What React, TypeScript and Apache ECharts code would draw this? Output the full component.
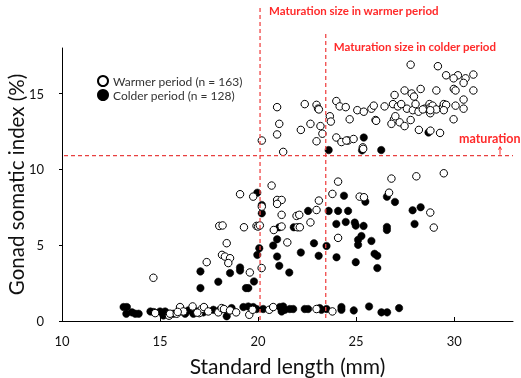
import React, { useEffect, useRef } from "react";
import * as echarts from "echarts";

// Warmer period (open circles): [standard length (mm), GSI (%)]
const warmerPoints: [number, number][] = [
  // upper cluster
  [27.78, 16.9], [29.17, 16.8], [29.59, 16.2], [30.19, 16.2], [29.97, 16.0], [30.58, 16.0],
  [30.98, 16.25], [30.48, 15.7], [29.98, 15.3], [30.07, 15.2], [30.98, 15.2], [27.47, 15.2],
  [28.29, 15.3], [29.09, 15.2], [27.83, 15.0], [27.95, 14.8], [30.48, 14.6], [26.96, 14.9],
  [23.99, 14.5], [22.38, 14.3], [20.97, 14.1], [22.98, 14.25], [23.06, 14.0], [24.16, 14.15],
  [24.47, 14.1], [25.06, 13.9], [25.39, 13.8], [25.78, 14.0], [25.9, 14.2], [26.45, 14.15],
  [26.88, 14.3], [27.13, 14.15], [27.59, 14.0], [27.89, 13.9], [28.03, 14.3], [28.18, 13.8],
  [28.49, 14.0], [28.74, 14.3], [28.79, 14.1], [28.78, 13.7], [28.9, 14.2], [29.09, 13.95],
  [29.43, 14.1], [29.47, 14.3], [29.59, 14.25], [29.47, 13.9], [30.07, 14.2], [30.48, 14.0],
  [29.97, 13.3], [28.78, 13.9], [23.66, 13.5], [23.71, 13.15], [24.67, 13.3], [25.99, 13.25],
  [26.93, 13.3], [26.8, 13.0], [27.22, 13.1], [27.47, 12.85], [27.78, 13.25], [27.0, 13.5],
  [22.67, 13.0], [21.08, 13.0], [23.18, 12.85], [22.18, 12.6], [23.28, 12.35], [20.97, 12.3],
  [23.99, 12.1], [24.25, 11.8], [24.59, 11.9], [24.5, 11.9], [24.87, 12.0], [22.98, 11.85],
  [20.19, 11.9], [21.28, 11.15], [25.34, 11.45], [25.36, 11.35], [28.2, 12.6], [28.79, 12.55],
  [29.28, 12.4], [26.02, 13.2], [23.1, 13.95], [27.3, 14.3], [28.4, 13.95],
  // middle cluster
  [14.66, 2.85], [17.38, 3.88], [18.02, 6.27], [18.19, 6.3], [18.4, 5.13], [18.16, 4.36],
  [18.31, 4.25], [18.57, 4.14], [18.48, 3.82], [19.08, 8.36], [19.28, 6.18], [19.58, 3.2],
  [19.75, 8.2], [19.92, 6.27], [20.0, 6.23], [20.09, 6.3], [20.19, 7.54], [20.18, 3.49],
  [20.69, 8.93], [20.97, 7.98], [21.2, 7.98], [20.97, 7.72], [21.2, 7.0], [20.8, 6.0],
  [21.2, 6.23], [21.49, 5.18], [21.96, 6.93], [22.1, 7.0], [22.01, 6.18], [22.13, 6.18],
  [22.67, 6.5], [22.98, 7.32], [23.1, 7.94], [23.79, 8.38], [24.08, 9.19], [24.08, 5.48],
  [25.18, 8.2], [25.4, 8.16], [26.68, 8.46], [26.8, 9.39], [28.07, 9.54], [29.47, 9.74],
  [28.78, 7.15], [28.96, 6.16],
  // bottom cluster
  [14.75, 0.52], [15.46, 0.35], [15.51, 0.48], [15.85, 0.48], [16.02, 0.92], [16.19, 0.63],
  [16.66, 0.96], [17.0, 0.52], [17.12, 0.79], [17.24, 0.92], [17.46, 0.63], [17.97, 0.57],
  [18.14, 0.85], [18.26, 0.79], [18.57, 0.7], [18.88, 0.57], [19.55, 0.41], [19.72, 0.74],
  [20.57, 0.74], [20.77, 0.92], [22.98, 0.79], [23.79, 0.63], [16.9, 0.55], [15.9, 0.6],
];

// Colder period (filled circles)
const colderPoints: [number, number][] = [
  // upper cluster
  [23.6, 11.27], [25.39, 12.1], [26.28, 11.27], [28.69, 12.43], [25.3, 11.25],
  // middle cluster
  [17.06, 3.27], [17.06, 2.17], [17.97, 2.59], [18.57, 3.16], [19.08, 3.53], [19.08, 3.33],
  [19.38, 2.17], [19.5, 2.17], [19.79, 2.61], [19.96, 8.46], [20.19, 7.65], [20.19, 7.1],
  [20.06, 4.8], [19.96, 4.36], [20.77, 4.98], [20.97, 5.39], [20.97, 4.25], [21.08, 3.64],
  [21.59, 3.2], [21.08, 6.18], [21.82, 6.18], [22.18, 4.52], [22.55, 7.26], [22.85, 5.13],
  [23.09, 4.3], [23.49, 4.95], [23.6, 7.26], [23.99, 6.4], [24.0, 4.2], [24.08, 7.26],
  [24.59, 7.26], [24.38, 8.26], [24.47, 6.53], [24.93, 6.49], [24.98, 6.29], [25.1, 5.35],
  [25.1, 5.02], [24.98, 3.88], [25.27, 5.6], [25.38, 6.27], [25.47, 7.87], [25.78, 5.28],
  [25.94, 4.43], [26.08, 4.3], [26.08, 3.49], [26.57, 8.2], [26.57, 6.2], [26.57, 6.0],
  [26.98, 7.85], [27.88, 7.3], [28.29, 7.5], [27.98, 6.4],
  // bottom cluster
  [13.14, 0.92], [13.31, 0.92], [13.28, 0.48], [13.57, 0.57], [13.74, 0.48], [13.91, 0.48],
  [14.51, 0.63], [14.68, 0.59], [15.0, 0.63], [15.26, 0.63], [15.17, 0.37], [15.68, 0.48],
  [16.02, 0.63], [16.28, 0.48], [16.45, 0.7], [16.7, 0.48], [16.87, 0.63], [17.21, 0.57],
  [17.72, 0.74], [18.06, 0.74], [18.4, 0.31], [18.48, 0.63], [18.65, 0.85], [19.25, 0.92],
  [19.5, 0.96], [19.75, 0.92], [19.92, 0.79], [20.26, 0.79], [21.11, 0.92], [21.2, 0.63],
  [21.37, 0.74], [21.28, 0.96], [21.62, 0.79], [21.79, 0.79], [22.38, 0.79], [22.55, 0.79],
  [23.14, 0.85], [23.23, 0.74], [23.49, 0.79], [24.25, 0.92], [24.25, 0.74], [24.88, 0.7],
  [25.66, 0.96], [26.29, 0.57], [26.58, 0.57], [27.19, 0.85],
];

const seriesNames = ["Warmer period (n = 163)", "Colder period (n = 128)"];
const yTitle = "Gonad somatic index (%)";
const warmerMaturationSize = 20.1;
const colderMaturationSize = 23.45;
const maturationGSI = 10.9;
const xTicks = { min: 10, max: 33, interval: 5 };
const yTicks = { min: 0, max: 18, interval: 5 };

const FONT = "Lato, 'Open Sans', sans-serif";
const RED = "#ff2a2a";
const LINE_RED = "#f04848";

export default function App() {
  const ref = useRef<HTMLDivElement>(null);
  useEffect(() => {
    if (!ref.current) return;
    const chart = echarts.init(ref.current, undefined, { renderer: "svg" });
    chart.setOption({
      animation: false,
      textStyle: { fontFamily: FONT },
      grid: { left: 62, right: 8, top: 48, bottom: 57, containLabel: false, outerBoundsMode: "none" },
      legend: {
        orient: "vertical",
        left: 92,
        top: 70,
        itemWidth: 10,
        itemHeight: 10,
        itemGap: 2,
        textStyle: { fontSize: 12, color: "#333", fontFamily: FONT },
        data: seriesNames,
      },
      xAxis: {
        type: "value",
        min: xTicks.min,
        max: xTicks.max,
        interval: xTicks.interval,
        name: "Standard length (mm)",
        nameLocation: "middle",
        nameGap: 34,
        nameTextStyle: { fontSize: 21, color: "#111", fontFamily: FONT },
        axisLine: { lineStyle: { color: "#000", width: 1 } },
        axisTick: { inside: true, length: 4, lineStyle: { color: "#000" } },
        axisLabel: { fontSize: 13, color: "#111", margin: 13, fontFamily: FONT, showMaxLabel: false },
        splitLine: { show: false },
      },
      yAxis: {
        type: "value",
        min: yTicks.min,
        max: yTicks.max,
        interval: yTicks.interval,
        axisLine: { show: true, lineStyle: { color: "#000", width: 1 } },
        axisTick: { show: true, inside: false, length: 3, lineStyle: { color: "#000" } },
        axisLabel: { fontSize: 13, color: "#111", margin: 18, fontFamily: FONT, showMaxLabel: false },
        splitLine: { show: false },
      },
      series: [
        {
          name: seriesNames[0],
          type: "scatter",
          data: warmerPoints,
          symbol: "circle",
          symbolSize: 7.5,
          itemStyle: { color: "#fff", borderColor: "#000", borderWidth: 1, opacity: 1 },
          z: 3,
        },
        {
          name: seriesNames[1],
          type: "scatter",
          data: colderPoints,
          symbol: "circle",
          symbolSize: 7.5,
          itemStyle: { color: "#000", borderColor: "#000", borderWidth: 0.5, opacity: 1 },
          z: 2,
        },
      ],
    });

    const [wx, y0] = chart.convertToPixel({ gridIndex: 0 }, [warmerMaturationSize, 0]) as number[];
    const [cx] = chart.convertToPixel({ gridIndex: 0 }, [colderMaturationSize, 0]) as number[];
    const [xl, hy] = chart.convertToPixel({ gridIndex: 0 }, [xTicks.min, maturationGSI]) as number[];
    const [xr, yTop] = chart.convertToPixel({ gridIndex: 0 }, [xTicks.max, yTicks.max]) as number[];
    const dash = { stroke: LINE_RED, lineWidth: 1.3, lineDash: [4, 3] };
    chart.setOption({
      graphic: [
        {
          type: "text", x: 16, y: (y0 + yTop) / 2, rotation: Math.PI / 2,
          style: { text: yTitle, fill: "#111", font: `20.5px ${FONT}`, align: "center", verticalAlign: "middle" },
        },
        { type: "line", shape: { x1: wx, y1: 8, x2: wx, y2: y0 }, style: dash, z: 10 },
        { type: "line", shape: { x1: cx, y1: 34, x2: cx, y2: y0 }, style: dash, z: 10 },
        { type: "line", shape: { x1: xl + 2, y1: hy, x2: xr, y2: hy }, style: { ...dash, stroke: "#e84040" }, z: 10 },
        {
          type: "text", x: wx + 9, y: 10,
          style: { text: "Maturation size in warmer period", fill: RED, font: `bold 11.5px ${FONT}`, textVerticalAlign: "middle" },
        },
        {
          type: "text", x: cx + 8, y: 46,
          style: { text: "Maturation size in colder period", fill: RED, font: `bold 11.5px ${FONT}`, textVerticalAlign: "middle" },
        },
        {
          type: "text", x: 459, y: 138,
          style: { text: "maturation", fill: RED, font: `bold 12.5px ${FONT}`, textVerticalAlign: "middle" },
        },
        { type: "line", shape: { x1: 500, y1: hy - 1, x2: 500, y2: hy - 8 }, style: { stroke: RED, lineWidth: 1 }, z: 10 },
        { type: "polyline", shape: { points: [[498.5, hy - 6], [500, hy - 9], [501.5, hy - 6]] }, style: { stroke: RED, lineWidth: 1, fill: "none" }, z: 10 },
      ],
    });
    return () => chart.dispose();
  }, []);
  return <div ref={ref} style={{ width: 521, height: 378, position: "fixed", left: 0, top: 0 }} />;
}
